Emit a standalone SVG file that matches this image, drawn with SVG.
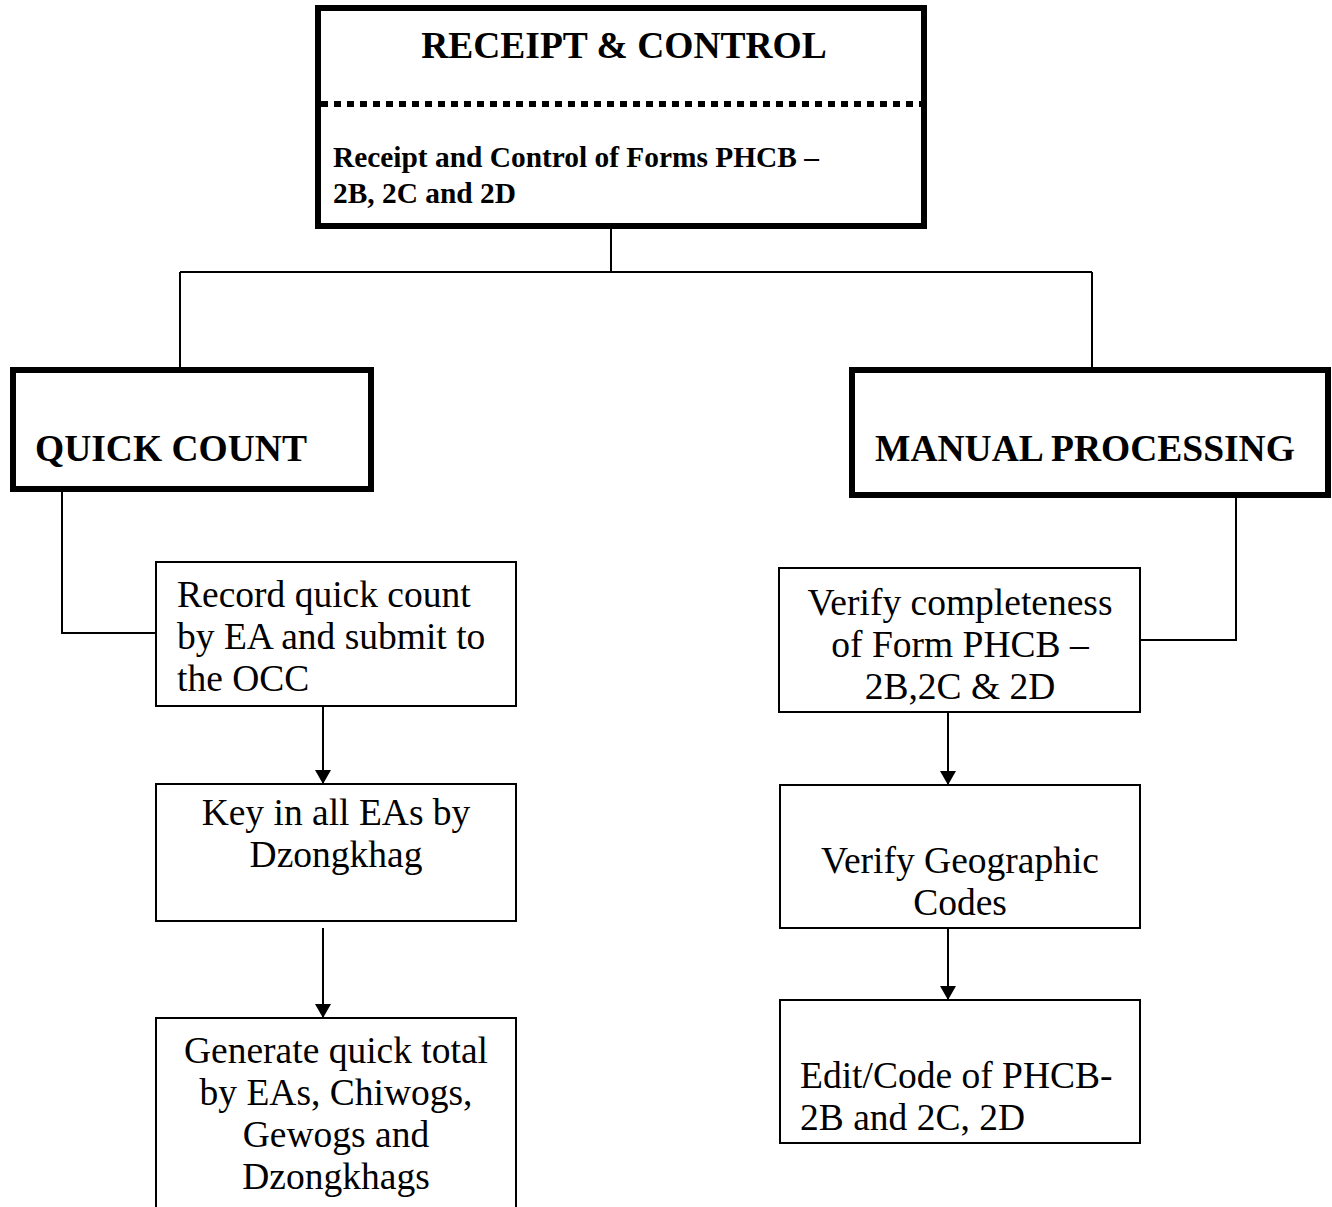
<svg xmlns="http://www.w3.org/2000/svg" width="1332" height="1207" viewBox="0 0 1332 1207">
<style>
.thick{fill:#fff;stroke:#000;stroke-width:6}
.box{fill:#fff;stroke:#000;stroke-width:2}
.ln{fill:none;stroke:#000;stroke-width:2}
.h{font-family:"Liberation Serif",serif;font-weight:bold;font-size:37.5px;fill:#000}
.s{font-family:"Liberation Serif",serif;font-weight:bold;font-size:29.4px;fill:#000}
.t{font-family:"Liberation Serif",serif;font-size:37.5px;fill:#000}
.c{text-anchor:middle}
</style>
<defs>
<marker id="arr" markerWidth="14" markerHeight="16" refX="14" refY="8" orient="auto" markerUnits="userSpaceOnUse">
<path d="M0,0 L14,8 L0,16 Z" fill="#000"/>
</marker>
</defs>
<g id="connectors">
<path class="ln" d="M611,229 V272 M180,272 H1092 M180,272 V368 M1092,272 V368"/>
<path class="ln" d="M62,492 V633 H156"/>
<path class="ln" d="M1236,497 V640 H1140"/>
<line class="ln" x1="323" y1="706" x2="323" y2="784" marker-end="url(#arr)"/>
<line class="ln" x1="323" y1="928" x2="323" y2="1018" marker-end="url(#arr)"/>
<line class="ln" x1="948" y1="712" x2="948" y2="785" marker-end="url(#arr)"/>
<line class="ln" x1="948" y1="928" x2="948" y2="1000" marker-end="url(#arr)"/>
</g>
<g id="receipt-control">
<rect class="thick" x="318" y="8" width="606" height="218"/>
<line x1="321" y1="104" x2="921" y2="104" stroke="#000" stroke-width="6" stroke-dasharray="7 6"/>
<text class="h c" x="624" y="58">RECEIPT &amp; CONTROL</text>
<text class="s" x="333" y="167">Receipt and Control of Forms PHCB –</text>
<text class="s" x="333" y="203">2B, 2C and 2D</text>
</g>
<g id="quick-count">
<rect class="thick" x="13" y="370" width="358" height="119"/>
<text class="h" x="35" y="461">QUICK COUNT</text>
</g>
<g id="manual-processing">
<rect class="thick" x="852" y="370" width="476" height="125"/>
<text class="h" x="875" y="461">MANUAL PROCESSING</text>
</g>
<g id="record-quick-count">
<rect class="box" x="156" y="562" width="360" height="144"/>
<text class="t" x="177" y="607">Record quick count</text>
<text class="t" x="177" y="649">by EA and submit to</text>
<text class="t" x="177" y="691">the OCC</text>
</g>
<g id="key-in">
<rect class="box" x="156" y="784" width="360" height="137"/>
<text class="t c" x="336" y="825">Key in all EAs by</text>
<text class="t c" x="336" y="867">Dzongkhag</text>
</g>
<g id="generate-total">
<rect class="box" x="156" y="1018" width="360" height="200"/>
<text class="t c" x="336" y="1063">Generate quick total</text>
<text class="t c" x="336" y="1105">by EAs, Chiwogs,</text>
<text class="t c" x="336" y="1147">Gewogs and</text>
<text class="t c" x="336" y="1189">Dzongkhags</text>
</g>
<g id="verify-completeness">
<rect class="box" x="779" y="568" width="361" height="144"/>
<text class="t c" x="960" y="615">Verify completeness</text>
<text class="t c" x="960" y="657">of Form PHCB –</text>
<text class="t c" x="960" y="699">2B,2C &amp; 2D</text>
</g>
<g id="verify-geographic">
<rect class="box" x="780" y="785" width="360" height="143"/>
<text class="t c" x="960" y="873">Verify Geographic</text>
<text class="t c" x="960" y="915">Codes</text>
</g>
<g id="edit-code">
<rect class="box" x="780" y="1000" width="360" height="143"/>
<text class="t" x="800" y="1088">Edit/Code of PHCB-</text>
<text class="t" x="800" y="1130">2B and 2C, 2D</text>
</g>
</svg>
